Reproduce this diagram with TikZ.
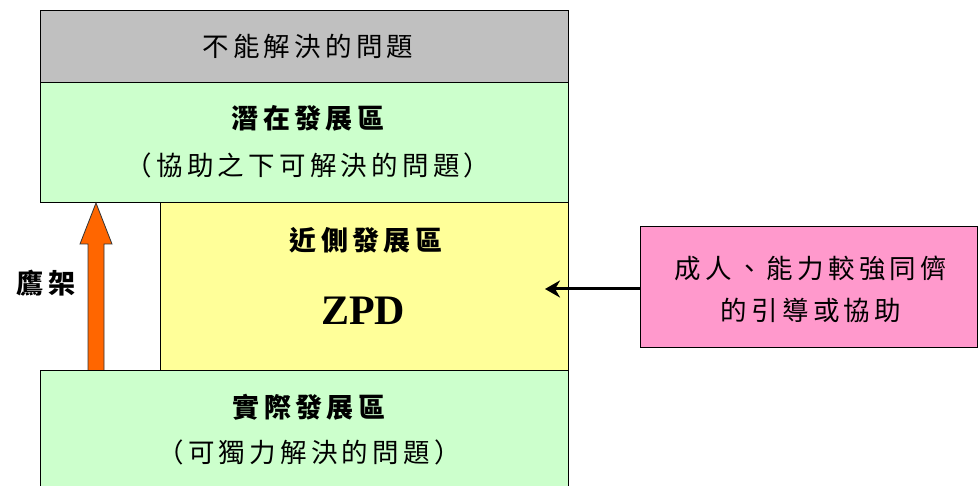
\documentclass[tikz,border=0pt]{standalone}
\usepackage{fontspec}
\setmainfont{Liberation Serif}
\newfontfamily\cjk[LetterSpace=16]{Noto Sans CJK TC}
\usetikzlibrary{arrows.meta,calc}
\definecolor{grayc}{HTML}{C0C0C0}
\definecolor{greenc}{HTML}{CCFFCC}
\definecolor{yellowc}{HTML}{FFFF99}
\definecolor{orangec}{HTML}{FF6600}
\definecolor{pinkc}{HTML}{FF99CC}
\tikzset{
  zone/.style={draw=black, line width=1.3pt, inner sep=0pt, anchor=north west},
  txt/.style={font=\cjk\fontsize{26.5}{26.5}\selectfont, inner sep=0pt},
  ttl/.style={font=\cjk\bfseries\fontsize{27}{27}\selectfont, inner sep=0pt},
  zpd/.style={font=\bfseries\fontsize{42}{42}\selectfont, inner sep=0pt},
}
\begin{document}
\begin{tikzpicture}[x=1pt, y=-1pt]
\useasboundingbox (0,0) rectangle (978,486);
% zones
\node[zone, fill=grayc, minimum width=528pt, minimum height=72pt] (gray) at (40,10) {};
\node[zone, fill=greenc, minimum width=528pt, minimum height=120pt] (pot) at (40,82) {};
\node[zone, fill=greenc, minimum width=528pt, minimum height=140pt] (act) at (40,370) {};
\node[zone, fill=yellowc, minimum width=408pt, minimum height=168pt] (zone) at (160,202) {};
\node[zone, fill=pinkc, minimum width=337pt, minimum height=121pt] (pink) at (640,226) {};
% texts
\node[txt] (t1) at (308,46) {不能解決的問題};
\node[ttl] (t2) at (308,118) {潛在發展區};
\node[txt] (t3) at (308,165) {（協助之下可解決的問題）};
\node[ttl] (t4) at (366,240) {近側發展區};
\node[zpd] (t5) at (363,311) {ZPD};
\node[ttl] (t6) at (309,407) {實際發展區};
\node[txt] (t7) at (309,452) {（可獨力解決的問題）};
\node[ttl] (scaf) at (46,283) {鷹架};
\node[txt] (p1) at (811,268) {成人、能力較強同儕};
\node[txt] (p2) at (811,310) {的引導或協助};
% scaffold arrow
\coordinate (sbase) at (96,370);
\coordinate (stip) at (96,203);
\draw[fill=orangec, draw=black!80, line width=0.8pt]
  ($(sbase)+(-8,0)$) -- ($(stip)+(-8,41)$) -- ($(stip)+(-16,41)$) -- (stip)
  -- ($(stip)+(16,41)$) -- ($(stip)+(8,41)$) -- ($(sbase)+(8,0)$);
% guidance arrow
\coordinate (gtip) at (545,289);
\draw[line width=3pt, -{Stealth[length=15pt,width=17pt]}] (pink.west |- gtip) -- (gtip);
\end{tikzpicture}
\end{document}
